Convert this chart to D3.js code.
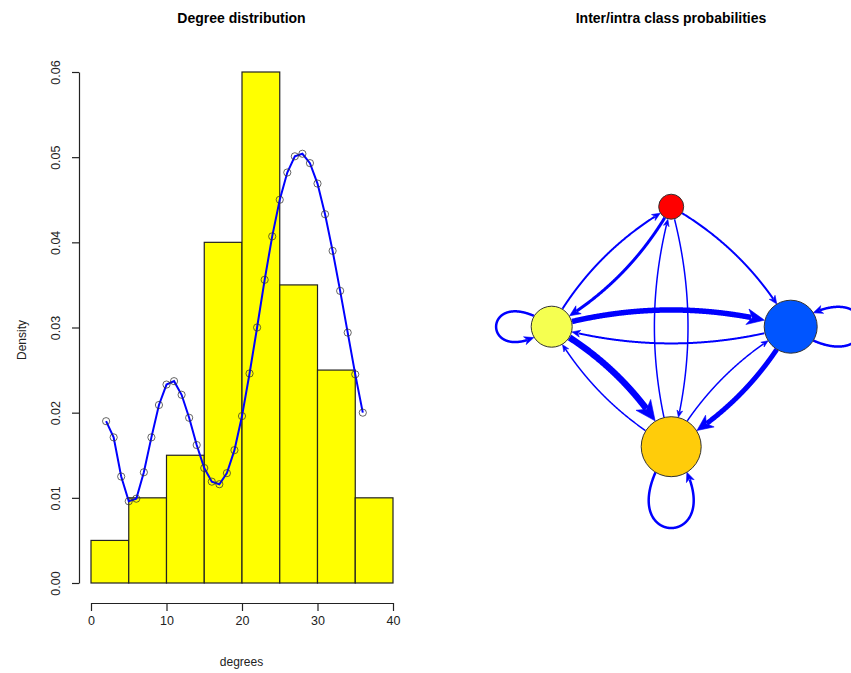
<!DOCTYPE html>
<html>
<head>
<meta charset="utf-8">
<script src="https://cdn.jsdelivr.net/npm/d3@7"></script>
<style>
  body { margin: 0; background: #fff; }
  text { font-family: "Liberation Sans", Arial, sans-serif; }
</style>
</head>
<body>
<div id="chart"></div>
<script>
// histogram of degrees
var binEdges = [0, 5, 10, 15, 20, 25, 30, 35, 40]
var binDensity = [0.005, 0.01, 0.015, 0.04, 0.06, 0.035, 0.025, 0.01]

// fitted density (points on the curve)
var curveDegree = [2, 3, 4, 5, 6, 7, 8, 9, 10, 11, 12, 13, 14, 15, 16, 17, 18, 19, 20,
    21, 22, 23, 24, 25, 26, 27, 28, 29, 30, 31, 32, 33, 34, 35, 36]
var curveDensity = [0.0190, 0.0171, 0.0125, 0.0096, 0.0099, 0.0130, 0.0171, 0.0209, 0.0233, 0.0237,
    0.0221, 0.0194, 0.0162, 0.0135, 0.0119, 0.0116, 0.0129, 0.0156, 0.0196, 0.0246,
    0.0300, 0.0356, 0.0407, 0.0450, 0.0482, 0.0501, 0.0504, 0.0493, 0.0469, 0.0433,
    0.0390, 0.0343, 0.0294, 0.0245, 0.0200]

var xTicks = [0, 10, 20, 30, 40]
var yTicks = [0, 0.01, 0.02, 0.03, 0.04, 0.05, 0.06]

// classes of the graph: layout position (-1..1), vertex size, colour
var classNames = ["red", "yellow", "blue", "orange"]
var classLayoutX = [0, -1, 1, 0]
var classLayoutY = [1, 0, 0, -1]
var classSize = [12.5, 20.5, 26.5, 30]
var classColor = ["#FF0000", "#F5FF50", "#0055FF", "#FFCC0A"]

// edges between classes: from, to, width
var edgeFrom = [1, 0, 1, 2, 1, 3, 2, 3, 0, 3, 0, 1, 2, 3]
var edgeTo = [0, 1, 2, 1, 3, 1, 3, 2, 3, 0, 2, 1, 2, 3]
var edgeWidth = [2, 3, 5.5, 2, 6.5, 1.5, 5, 1.5, 1.5, 1.5, 2, 2.5, 2.5, 2.5]

var width = 851, height = 673

var svg = d3.select("#chart")
    .append("svg")
    .attr("width", width)
    .attr("height", height)

svg.append("rect")
    .attr("width", "100%")
    .attr("height", "100%")
    .attr("fill", "white")

// ---------- left panel ----------
var x = d3.scaleLinear().domain([0, 40]).range([91, 393])
var y = d3.scaleLinear().domain([0, 0.06]).range([583, 72])

svg.append("text")
    .attr("x", 241.5)
    .attr("y", 23)
    .attr("text-anchor", "middle")
    .style("font-size", "14px")
    .style("font-weight", "bold")
    .text("Degree distribution")

var bins = binDensity.map(function(d, i) {
    return { x0: binEdges[i], x1: binEdges[i + 1], d: d }
})

svg.append("g")
    .selectAll("rect")
    .data(bins)
    .enter().append("rect")
    .attr("x", function(d) { return x(d.x0) })
    .attr("y", function(d) { return y(d.d) })
    .attr("width", function(d) { return x(d.x1) - x(d.x0) })
    .attr("height", function(d) { return y(0) - y(d.d) })
    .attr("fill", "#FFFF00")
    .attr("stroke", "#222")
    .attr("stroke-width", 1.2)

var curve = curveDegree.map(function(d, i) { return [d, curveDensity[i]] })

svg.append("path")
    .datum(curve)
    .attr("d", d3.line()
        .x(function(d) { return x(d[0]) })
        .y(function(d) { return y(d[1]) }))
    .attr("fill", "none")
    .attr("stroke", "#0000FF")
    .attr("stroke-width", 2)

svg.append("g")
    .selectAll("circle")
    .data(curve)
    .enter().append("circle")
    .attr("cx", function(d) { return x(d[0]) })
    .attr("cy", function(d) { return y(d[1]) })
    .attr("r", 3.6)
    .attr("fill", "none")
    .attr("stroke", "#333")
    .attr("stroke-opacity", 0.75)
    .attr("stroke-width", 1)

var xAxis = svg.append("g")
    .attr("transform", "translate(0,603)")
    .call(d3.axisBottom(x).tickValues(xTicks).tickSize(8).tickSizeOuter(0).tickPadding(5))
xAxis.selectAll("text").style("font-size", "12.5px").attr("fill", "#222")
xAxis.selectAll("path, line").attr("stroke", "#222").attr("stroke-width", 1.2)

var yAxis = svg.append("g")
    .attr("transform", "translate(79,0)")
    .call(d3.axisLeft(y).tickValues(yTicks).tickFormat(d3.format(".2f")).tickSize(7).tickSizeOuter(0))
yAxis.selectAll("text")
    .attr("x", 0)
    .attr("dy", 0)
    .attr("text-anchor", "middle")
    .attr("transform", "translate(-19,0) rotate(-90)")
    .style("font-size", "12.5px")
    .attr("fill", "#222")
yAxis.selectAll("path, line").attr("stroke", "#222").attr("stroke-width", 1.2)

svg.append("text")
    .attr("x", 241.5)
    .attr("y", 666)
    .attr("text-anchor", "middle")
    .style("font-size", "12px")
    .attr("fill", "#222")
    .text("degrees")

svg.append("text")
    .attr("transform", "translate(26,340) rotate(-90)")
    .attr("text-anchor", "middle")
    .style("font-size", "12px")
    .attr("fill", "#222")
    .text("Density")

// ---------- right panel ----------
svg.append("text")
    .attr("x", 671)
    .attr("y", 23)
    .attr("text-anchor", "middle")
    .style("font-size", "14px")
    .style("font-weight", "bold")
    .text("Inter/intra class probabilities")

var gx = d3.scaleLinear().domain([-1, 1]).range([551.7, 790.7])
var gy = d3.scaleLinear().domain([-1, 1]).range([446.7, 206.7])

var nodes = classNames.map(function(n, i) {
    return { name: n, x: gx(classLayoutX[i]), y: gy(classLayoutY[i]), r: classSize[i], color: classColor[i] }
})

var edges = edgeFrom.map(function(f, i) {
    return { source: nodes[f], target: nodes[edgeTo[i]], w: edgeWidth[i] }
})

var curvature = -0.14

function bez2(p0, c, p1, t) {
    var s = 1 - t
    return [s * s * p0[0] + 2 * s * t * c[0] + t * t * p1[0],
        s * s * p0[1] + 2 * s * t * c[1] + t * t * p1[1]]
}

function bez3(p0, c1, c2, p1, t) {
    var s = 1 - t
    return [s * s * s * p0[0] + 3 * s * s * t * c1[0] + 3 * s * t * t * c2[0] + t * t * t * p1[0],
        s * s * s * p0[1] + 3 * s * s * t * c1[1] + 3 * s * t * t * c2[1] + t * t * t * p1[1]]
}

function dist(a, b) { return Math.hypot(a[0] - b[0], a[1] - b[1]) }

// returns the sampled points of the edge and the arrow polygon
function edgeGeometry(e) {
    var s = e.source, t = e.target
    var f
    if (s === t) {
        // self loop pointing away from the centre of the layout
        var a = Math.atan2(s.y - gy(0), s.x - gx(0))
        var d1 = 0.55, d2 = 0.45, k = 3.7
        var P0 = [s.x + s.r * Math.cos(a + d1), s.y + s.r * Math.sin(a + d1)]
        var C1 = [s.x + k * s.r * Math.cos(a + d2), s.y + k * s.r * Math.sin(a + d2)]
        var C2 = [s.x + k * s.r * Math.cos(a - d2), s.y + k * s.r * Math.sin(a - d2)]
        var P3 = [s.x + s.r * Math.cos(a - d1), s.y + s.r * Math.sin(a - d1)]
        f = function(u) { return bez3(P0, C1, C2, P3, u) }
    } else {
        var p0 = [s.x, s.y], p1 = [t.x, t.y]
        var L = dist(p0, p1)
        var dx = (p1[0] - p0[0]) / L, dy = (p1[1] - p0[1]) / L
        var c = [(p0[0] + p1[0]) / 2 - dy * curvature * L, (p0[1] + p1[1]) / 2 + dx * curvature * L]
        f = function(u) { return bez2(p0, c, p1, u) }
    }
    var n = 400, pts = []
    for (var i = 0; i <= n; i++) pts.push(f(i / n))
    var i0 = 0, i1 = n
    while (i0 < n && dist(pts[i0], [s.x, s.y]) < s.r) i0++
    while (i1 > 0 && dist(pts[i1], [t.x, t.y]) < t.r) i1--
    var tip = pts[i1]
    var al = 3 + 2.6 * e.w, aw = 1 + 1.25 * e.w
    var j = i1
    while (j > i0 && dist(pts[j], tip) < al) j--
    var ux = (tip[0] - pts[j][0]) / dist(tip, pts[j]), uy = (tip[1] - pts[j][1]) / dist(tip, pts[j])
    var base = [tip[0] - ux * al, tip[1] - uy * al]
    var arrow = [tip,
        [base[0] - uy * aw, base[1] + ux * aw],
        [tip[0] - ux * al * 0.72, tip[1] - uy * al * 0.72],
        [base[0] + uy * aw, base[1] - ux * aw]]
    var k2 = i1
    while (k2 > i0 && dist(pts[k2], tip) < al * 0.75) k2--
    return { line: pts.slice(i0, k2 + 1), arrow: arrow }
}

var geo = edges.map(edgeGeometry)

var gEdges = svg.append("g")

gEdges.selectAll(".edge")
    .data(geo)
    .enter().append("path")
    .attr("class", "edge")
    .attr("d", function(d) { return d3.line()(d.line) })
    .attr("fill", "none")
    .attr("stroke", "#0000FF")
    .attr("stroke-width", function(d, i) { return edges[i].w })

gEdges.selectAll(".arrow")
    .data(geo)
    .enter().append("path")
    .attr("class", "arrow")
    .attr("d", function(d) { return "M" + d.arrow.join("L") + "Z" })
    .attr("fill", "#0000FF")
    .attr("stroke", "#0000FF")
    .attr("stroke-width", 0.6)

svg.append("g")
    .selectAll("circle")
    .data(nodes)
    .enter().append("circle")
    .attr("cx", function(d) { return d.x })
    .attr("cy", function(d) { return d.y })
    .attr("r", function(d) { return d.r })
    .attr("fill", function(d) { return d.color })
    .attr("stroke", "#333")
    .attr("stroke-width", 1)
</script>
</body>
</html>
